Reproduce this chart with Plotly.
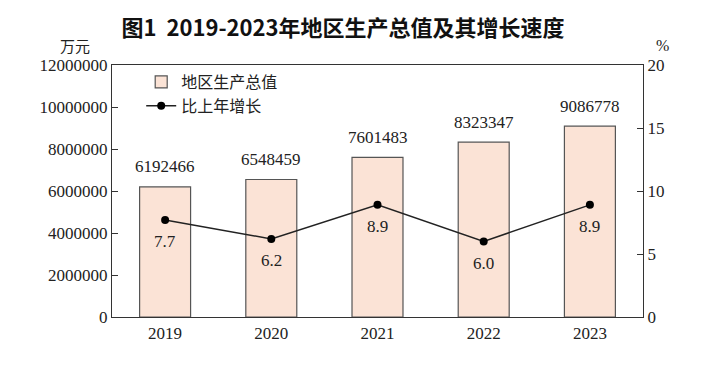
import plotly.graph_objects as go

years = ["2019", "2020", "2021", "2022", "2023"]
gdp = [6192466, 6548459, 7601483, 8323347, 9086778]
growth = [7.7, 6.2, 8.9, 6.0, 8.9]
growth_labels = ["7.7", "6.2", "8.9", "6.0", "8.9"]
left_ticks = [0, 2000000, 4000000, 6000000, 8000000, 10000000, 12000000]
right_ticks = [0, 5, 10, 15, 20]

serif = "Liberation Serif"
cjk = "Noto Sans CJK SC"

W, H = 712, 357  # page has an 8px body margin

fig = go.Figure()
fig.add_trace(go.Bar(
    x=years, y=gdp, name="地区生产总值",
    marker=dict(color="#FBE3D6", line=dict(color="#555555", width=1.2)),
    width=0.48,
))
fig.add_trace(go.Scatter(
    x=years, y=growth, name="比上年增长", yaxis="y2",
    mode="lines+markers",
    line=dict(color="#222222", width=1.5),
    marker=dict(color="#000000", size=8),
))

# value labels above bars (category index positions)
for i, v in enumerate(gdp):
    fig.add_annotation(x=i, y=v, xref="x", yref="y", text=str(v), showarrow=False,
                       yanchor="middle", yshift=20,
                       font=dict(family=serif, size=17, color="#222"))
# growth labels below points
for i, (g, t) in enumerate(zip(growth, growth_labels)):
    fig.add_annotation(x=i, y=g, xref="x", yref="y2", text=t, showarrow=False,
                       yanchor="middle", yshift=-22,
                       font=dict(family=serif, size=17, color="#222"))

fig.update_layout(
    width=W, height=H,
    margin=dict(l=104, r=77, t=57, b=48, autoexpand=False),
    paper_bgcolor="white", plot_bgcolor="white",
    title=dict(text="<b>图1  2019-2023年地区生产总值及其增长速度</b>",
               x=335 / W, xanchor="center", y=1 - 20 / H, yanchor="middle",
               font=dict(family=cjk, size=22, color="#111")),
    showlegend=True,
    legend=dict(x=0.055, y=1.0, xanchor="left", yanchor="top",
                font=dict(family=cjk, size=16, color="#222"),
                bgcolor="rgba(0,0,0,0)", tracegroupgap=2, itemwidth=30),
    xaxis=dict(type="category", range=[-0.5, 4.5], showline=True, linecolor="#333", linewidth=1.2,
               mirror=True, ticks="", tickfont=dict(family=serif, size=17, color="#222"),
               showgrid=False, automargin=False),
    yaxis=dict(range=[0, 12000000], tickvals=left_ticks, ticktext=[str(v) for v in left_ticks],
               showline=True, linecolor="#333", linewidth=1.2, ticks="inside", ticklen=6,
               tickcolor="#333", showgrid=False, zeroline=False, automargin=False,
               tickfont=dict(family=serif, size=17, color="#222")),
    yaxis2=dict(range=[0, 20], tickvals=right_ticks, overlaying="y", side="right",
                showline=True, linecolor="#333", linewidth=1.2, ticks="inside", ticklen=6,
                tickcolor="#333", showgrid=False, zeroline=False, automargin=False,
                tickfont=dict(family=serif, size=17, color="#222")),
)
fig.add_annotation(text="万元", xref="paper", yref="paper", x=-0.07, y=1.0, yshift=20,
                   xanchor="center", yanchor="middle",
                   showarrow=False, font=dict(family=cjk, size=15, color="#222"))
fig.add_annotation(text="%", xref="paper", yref="paper", x=1.036, y=1.0, yshift=20,
                   xanchor="center", yanchor="middle",
                   showarrow=False, font=dict(family=serif, size=16, color="#222"))

fig.write_html("out.html")
